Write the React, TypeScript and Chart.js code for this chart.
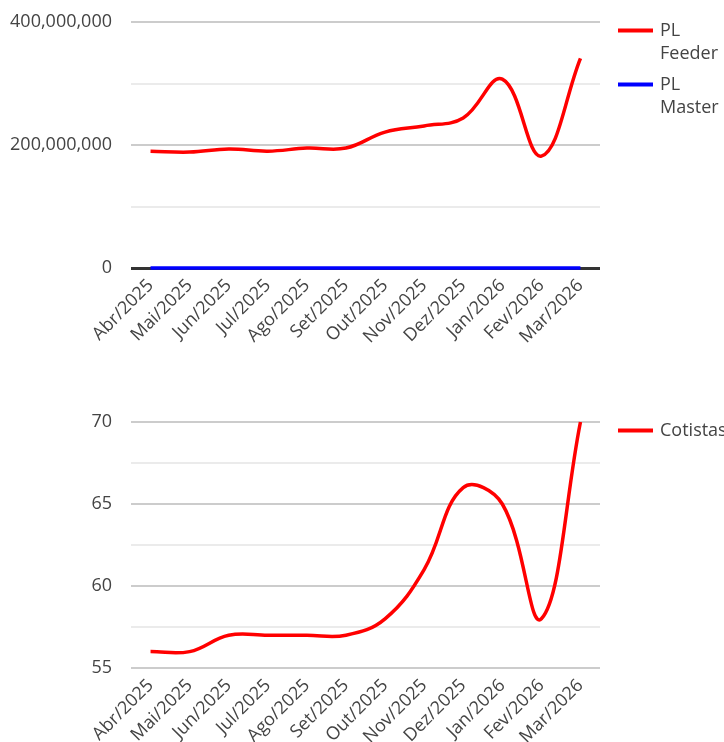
import React, { useEffect, useRef } from "react";
import { Chart, registerables } from "chart.js";

Chart.register(...registerables);

const months = [
  "Abr/2025", "Mai/2025", "Jun/2025", "Jul/2025", "Ago/2025", "Set/2025",
  "Out/2025", "Nov/2025", "Dez/2025", "Jan/2026", "Fev/2026", "Mar/2026",
];

const plFeeder = [
  190e6, 188.5e6, 193.5e6, 190e6, 195e6, 195e6,
  221e6, 231e6, 244e6, 307e6, 182e6, 341e6,
];
const plMaster = [0, 0, 0, 0, 0, 0, 0, 0, 0, 0, 0, 0];
const cotistas = [56, 56, 57, 57, 57, 57, 58, 61, 66, 65, 58, 70];

const plLegend = [["PL", "Feeder"], ["PL", "Master"]];
const cotLegend = [["Cotistas"]];

const FONT = "'Open Sans', 'Noto Sans', sans-serif";
const TEXT = "#444444";
const FS = 18;

function legendPlugin(items: string[][]) {
  return {
    id: "sideLegend",
    afterDraw(chart: any) {
      const { ctx, chartArea } = chart;
      const lh = 23;
      ctx.save();
      ctx.font = `${FS}px ${FONT}`;
      ctx.textBaseline = "middle";
      ctx.textAlign = "left";
      let y = chartArea.top + 8.5;
      items.forEach((lines, i) => {
        const ds = chart.data.datasets[i];
        ctx.strokeStyle = ds.borderColor;
        ctx.lineWidth = 4;
        ctx.beginPath();
        ctx.moveTo(chartArea.right + 18, y);
        ctx.lineTo(chartArea.right + 53, y);
        ctx.stroke();
        ctx.fillStyle = TEXT;
        lines.forEach((t, j) => ctx.fillText(t, chartArea.right + 60, y + j * lh));
        y += lines.length * lh + 8;
      });
      ctx.restore();
    },
  };
}

function makeOptions(
  height: number,
  yMin: number,
  yMax: number,
  step: number,
  isMajor: (v: number) => boolean,
  fmt: (v: number) => string,
  baselineZero: boolean
): any {
  return {
    responsive: true,
    maintainAspectRatio: false,
    animation: false,
    layout: { padding: { top: 22, right: 124, left: 0, bottom: 0 } },
    plugins: { legend: { display: false }, tooltip: { enabled: false } },
    elements: { point: { radius: 0 } },
    scales: {
      x: {
        offset: true,
        grid: { display: false, drawTicks: false },
        border: { display: false },
        ticks: {
          minRotation: 45,
          maxRotation: 45,
          autoSkip: false,
          padding: 7,
          color: TEXT,
          font: { family: FONT, size: FS },
        },
        afterFit: (s: any) => {
          s.height = height - 268;
          s.paddingLeft = 0;
          s.paddingRight = 0;
          s.paddingTop = 0;
          s.paddingBottom = 0;
        },
      },
      y: {
        min: yMin,
        max: yMax,
        border: { display: false },
        grid: {
          drawTicks: false,
          color: (c: any) => {
            const v = c.tick.value;
            if (baselineZero && v === 0) return "#333333";
            return isMajor(v) ? "#cccccc" : "#ebebeb";
          },
          lineWidth: (c: any) => (baselineZero && c.tick.value === 0 ? 3 : 2),
        },
        ticks: {
          stepSize: step,
          padding: 19,
          color: TEXT,
          font: { family: FONT, size: FS },
          callback: (v: any) => (isMajor(Number(v)) ? fmt(Number(v)) : ""),
        },
        afterFit: (s: any) => {
          s.width = 131;
          s.paddingLeft = 0;
          s.paddingRight = 0;
          s.paddingTop = 0;
          s.paddingBottom = 0;
        },
      },
    },
  };
}

function PLChart() {
  const ref = useRef<HTMLCanvasElement>(null);
  useEffect(() => {
    const chart = new Chart(ref.current!, {
      type: "line",
      data: {
        labels: months,
        datasets: [
          { label: "PL Feeder", data: plFeeder, borderColor: "#ff0000", borderWidth: 3.5, tension: 0.4, fill: false, clip: false },
          { label: "PL Master", data: plMaster, borderColor: "#0000ff", borderWidth: 3.5, tension: 0.4, fill: false, clip: false },
        ],
      },
      options: makeOptions(
        400, 0, 400e6, 100e6,
        (v) => Math.round(v / 1e6) % 200 === 0,
        (v) => v.toLocaleString("en-US"),
        true
      ),
      plugins: [legendPlugin(plLegend)],
    });
    return () => chart.destroy();
  }, []);
  return (
    <div style={{ position: "absolute", left: 0, top: 0, width: 724, height: 400 }}>
      <canvas ref={ref} />
    </div>
  );
}

function CotistasChart() {
  const ref = useRef<HTMLCanvasElement>(null);
  useEffect(() => {
    const chart = new Chart(ref.current!, {
      type: "line",
      data: {
        labels: months,
        datasets: [
          { label: "Cotistas", data: cotistas, borderColor: "#ff0000", borderWidth: 3.5, tension: 0.4, fill: false, clip: false },
        ],
      },
      options: makeOptions(
        342, 55, 70, 2.5,
        (v) => Math.abs(v % 5) < 1e-6,
        (v) => String(v),
        false
      ),
      plugins: [legendPlugin(cotLegend)],
    });
    return () => chart.destroy();
  }, []);
  return (
    <div style={{ position: "absolute", left: 0, top: 400, width: 724, height: 342 }}>
      <canvas ref={ref} />
    </div>
  );
}

export default function App() {
  return (
    <div style={{ position: "absolute", left: 0, top: 0, width: 724, height: 742, overflow: "hidden", background: "#fff" }}>
      <PLChart />
      <CotistasChart />
    </div>
  );
}
